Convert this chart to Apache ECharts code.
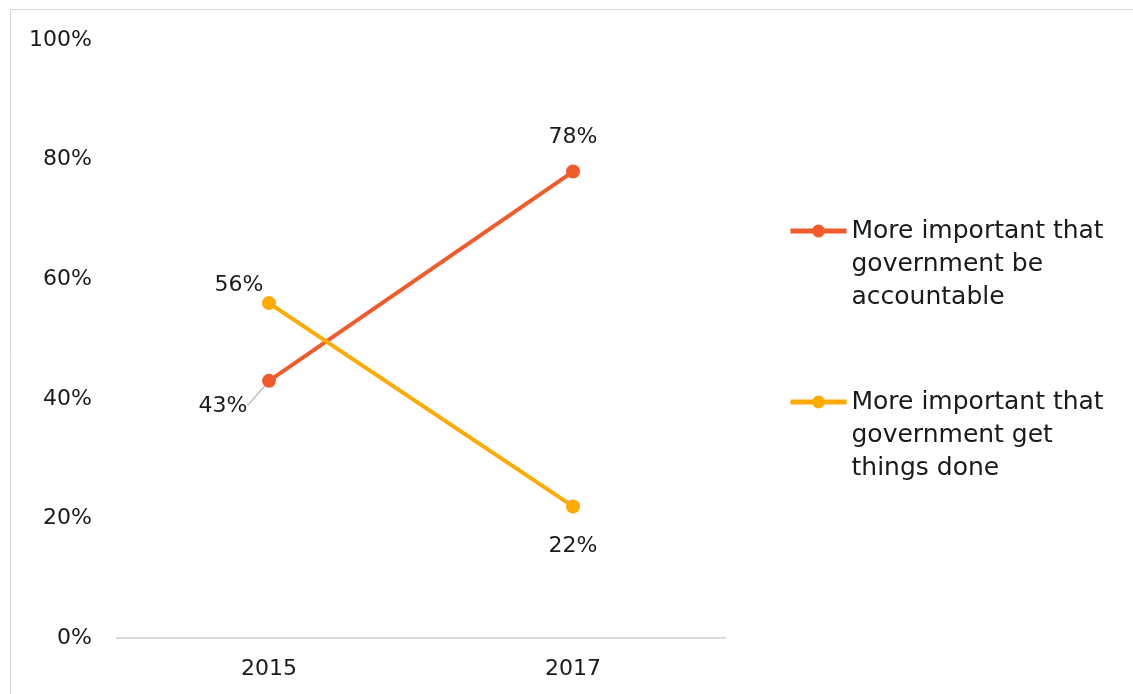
<!DOCTYPE html>
<html>
<head>
<meta charset="utf-8">
<script src="https://cdn.jsdelivr.net/npm/echarts@6/dist/echarts.min.js"></script>
<style>
  html, body { margin: 0; padding: 0; background: #fff; }
  #container { width: 1133px; height: 694px; }
</style>
</head>
<body>
<div id="container"></div>
<script>
var years = ['2015', '2017'];
var accountable = [43, 78];
var getThingsDone = [56, 22];
var yTicks = [0, 20, 40, 60, 80, 100];
var seriesNames = [
    'More important that government be accountable',
    'More important that government get things done'
];

var FONT = 'DejaVu Sans';
var chart = echarts.init(document.getElementById('container'));

// 图例文字手动换行，前面加两个空行让图标对齐第一行
function wrapName(name) {
    var words = name.split(' ');
    var lines = [], cur = '';
    words.forEach(function (w) {
        var next = cur ? cur + ' ' + w : w;
        if (next.length > 19 && cur) {
            lines.push(cur);
            cur = w;
        } else {
            cur = next;
        }
    });
    if (cur) lines.push(cur);
    return ' \n \n' + lines.join('\n');
}

function legendFor(name, iconY) {
    return {
        data: [name],
        left: 788,
        top: iconY - 82.5,
        padding: 0,
        itemWidth: 56,
        itemHeight: 16,
        itemGap: 0,
        formatter: wrapName,
        lineStyle: { width: 5 },
        textStyle: {
            fontFamily: FONT,
            fontSize: 25,
            color: '#1a1a1a',
            lineHeight: 33
        }
    };
}

var option = {
    animation: false,
    textStyle: { fontFamily: FONT },
    graphic: [{
        type: 'rect',
        shape: { x: 10.5, y: 9.5, width: 1200, height: 800 },
        style: { fill: 'none', stroke: '#d9d9d9', lineWidth: 1 },
        silent: true
    }],
    legend: [
        legendFor(seriesNames[0], 231),
        legendFor(seriesNames[1], 402)
    ],
    grid: { left: 117, right: 408, top: 40, bottom: 56 },
    xAxis: {
        type: 'category',
        data: years,
        boundaryGap: true,
        axisLine: { lineStyle: { color: '#d9d9d9', width: 2 } },
        axisTick: { show: false },
        axisLabel: { fontFamily: FONT, fontSize: 22, color: '#1a1a1a', margin: 20 }
    },
    yAxis: {
        type: 'value',
        min: yTicks[0],
        max: yTicks[yTicks.length - 1],
        interval: 20,
        axisLine: { show: false },
        axisTick: { show: false },
        splitLine: { show: false },
        axisLabel: {
            fontFamily: FONT, fontSize: 22, color: '#1a1a1a', margin: 25,
            formatter: '{value}%'
        }
    },
    series: [{
        name: seriesNames[0],
        type: 'line',
        color: '#F15A2B',
        symbol: 'circle',
        symbolSize: 14,
        lineStyle: { width: 4 },
        label: {
            show: true,
            fontFamily: FONT, fontSize: 22, color: '#1a1a1a',
            formatter: '{c}%',
            position: 'top',
            distance: 16
        },
        labelLayout: function (params) {
            if (params.dataIndex === 0) {
                return { dx: -46, dy: 59 };
            }
            return {};
        },
        labelLine: { show: false },
        data: accountable.map(function (v, i) {
            return {
                value: v,
                labelLine: { show: i === 0, lineStyle: { color: '#bfbfbf', width: 1.5 } }
            };
        })
    }, {
        name: seriesNames[1],
        type: 'line',
        color: '#FFAA00',
        symbol: 'circle',
        symbolSize: 14,
        lineStyle: { width: 4 },
        label: {
            show: true,
            fontFamily: FONT, fontSize: 22, color: '#1a1a1a',
            formatter: '{c}%'
        },
        labelLayout: function (params) {
            if (params.dataIndex === 0) {
                return { dx: -30, dy: 0 };
            }
            return {};
        },
        data: getThingsDone.map(function (v, i) {
            return {
                value: v,
                label: { position: i === 0 ? 'top' : 'bottom', distance: i === 0 ? 0 : 22 }
            };
        })
    }]
};

chart.setOption(option);
</script>
</body>
</html>
